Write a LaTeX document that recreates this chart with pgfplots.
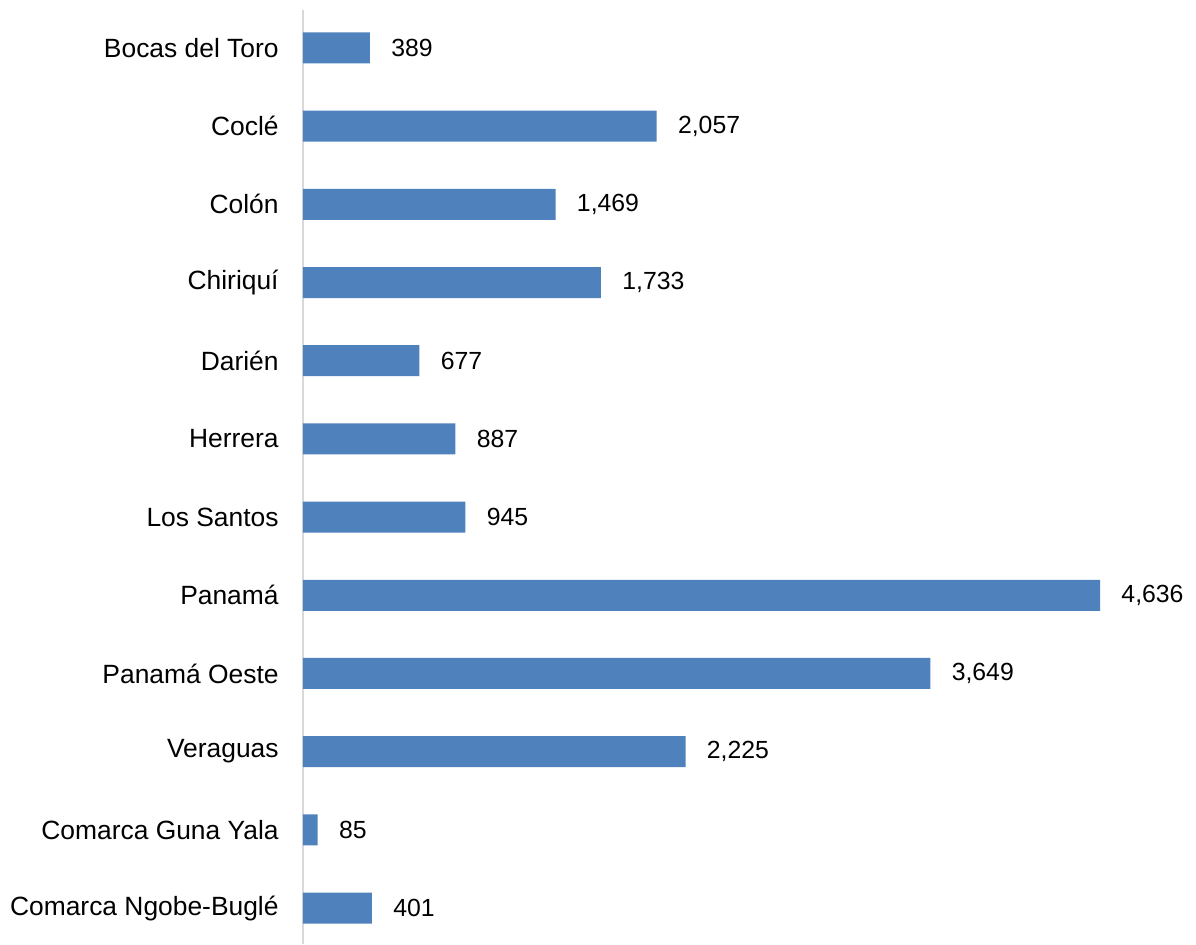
\documentclass[border=0pt]{standalone}
\usepackage{pgfplots}
\pgfplotsset{compat=1.18}
\usepackage{fontspec}
\setmainfont{Liberation Sans}
\definecolor{barblue}{HTML}{4F81BD}
\definecolor{axgray}{HTML}{D9D9D9}
\begin{document}
\begin{tikzpicture}
\begin{axis}[
  scale only axis,
  width=446.5pt,
  height=467pt,
  xmin=0, xmax=5194,
  ymin=-0.46, ymax=11.486,
  xbar,
  bar width=15.5pt,
  axis lines*=left,
  separate axis lines,
  x axis line style={draw=none},
  y axis line style={draw=axgray, line width=0.8pt},
  xtick=\empty,
  ytick={0,1,2,3,4,5,6,7,8,9,10,11},
  yticklabels={Comarca Ngobe-Buglé, Comarca Guna Yala, Veraguas, Panamá Oeste, Panamá, Los Santos, Herrera, Darién, Chiriquí, Colón, Coclé, Bocas del Toro},
  major tick length=0pt,
  yticklabel style={font=\fontsize{13.2}{15}\selectfont, inner sep=0pt, xshift=-12pt},
  nodes near coords,
  nodes near coords style={font=\fontsize{12.4}{14}\selectfont, anchor=west, inner sep=0pt, xshift=10.5pt, text=black},
  /pgf/number format/.cd, 1000 sep={,}, assume math mode=true,
  /pgfplots/.cd,
  clip=false,
]
\addplot[fill=barblue, draw=none] coordinates {
  (389,11) (2057,10) (1469,9) (1733,8) (677,7) (887,6)
  (945,5) (4636,4) (3649,3) (2225,2) (85,1) (401,0)
};
\end{axis}
\path ([xshift=-151.5pt,yshift=5pt]current axis.north west) (current axis.south east);
\end{tikzpicture}
\end{document}
